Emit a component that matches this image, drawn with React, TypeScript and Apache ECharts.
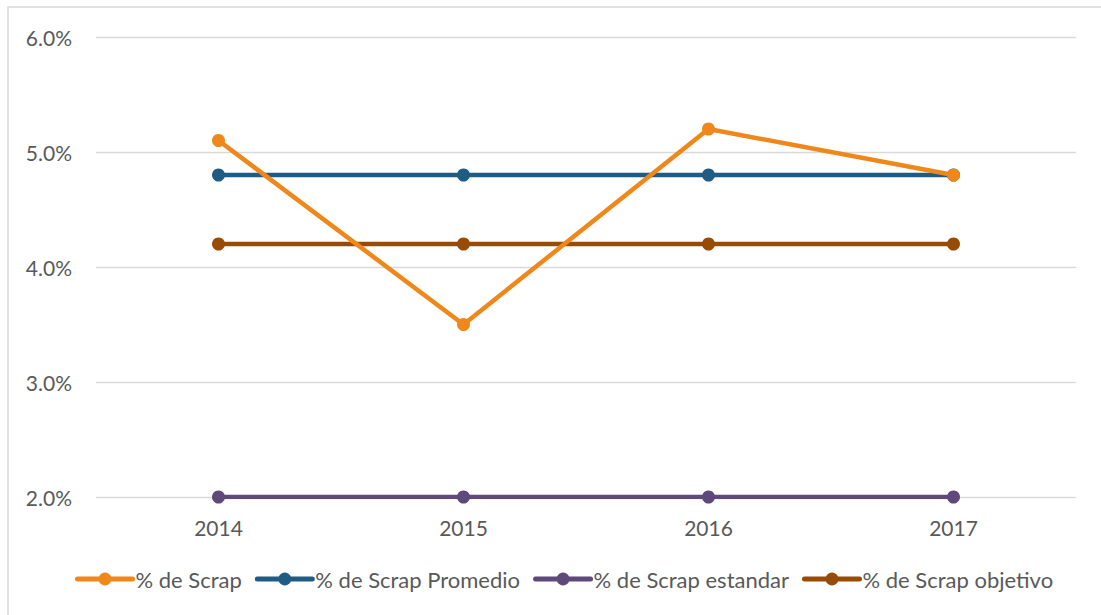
import React, { useEffect, useRef } from "react";
import * as echarts from "echarts";

const years = ["2014", "2015", "2016", "2017"];
const scrap = [5.1, 3.5, 5.2, 4.8];
const scrapPromedio = [4.8, 4.8, 4.8, 4.8];
const scrapEstandar = [2.0, 2.0, 2.0, 2.0];
const scrapObjetivo = [4.2, 4.2, 4.2, 4.2];

const seriesNames = [
  "% de Scrap",
  "% de Scrap Promedio",
  "% de Scrap estandar",
  "% de Scrap objetivo",
];
const seriesColors = ["#F0871A", "#1F5C84", "#5F497A", "#974B05"];
const seriesData = [scrap, scrapPromedio, scrapEstandar, scrapObjetivo];

const FONT = "Lato, 'Open Sans', sans-serif";
const TEXT = "#595959";

export default function App() {
  const ref = useRef<HTMLDivElement>(null);

  useEffect(() => {
    if (!ref.current) return;
    const chart = echarts.init(ref.current, undefined, { renderer: "svg" });
    chart.setOption({
      animation: false,
      backgroundColor: "#ffffff",
      graphic: [
        {
          type: "rect",
          shape: { x: 8, y: 7, width: 1200, height: 700 },
          style: { fill: "none", stroke: "#d9d9d9", lineWidth: 1.5 },
          silent: true,
          z: -1,
        },
      ],
      grid: { left: 96, right: 25, top: 37, bottom: 118, containLabel: false },
      legend: {
        bottom: 20,
        left: 70,
        itemWidth: 55,
        itemHeight: 16,
        itemGap: 13,
        lineStyle: { width: 5, cap: "round" },
        textStyle: { color: TEXT, fontSize: 22, fontFamily: FONT, padding: [0, 0, 0, -2] },
        data: seriesNames,
      },
      xAxis: {
        type: "category",
        data: years,
        boundaryGap: true,
        axisLine: { show: false },
        axisTick: { show: false },
        axisLabel: { color: TEXT, fontSize: 21, fontFamily: FONT, margin: 20 },
      },
      yAxis: {
        type: "value",
        min: 2,
        max: 6,
        interval: 1,
        axisLine: { show: false },
        axisTick: { show: false },
        splitLine: { lineStyle: { color: "#d9d9d9", width: 1.3 } },
        axisLabel: {
          color: TEXT,
          fontSize: 21,
          fontFamily: FONT,
          margin: 24,
          formatter: (v: number) => v.toFixed(1) + "%",
        },
      },
      series: seriesNames.map((name, i) => ({
        name,
        type: "line",
        data: seriesData[i],
        color: seriesColors[i],
        symbol: "circle",
        symbolSize: 13,
        lineStyle: { width: 4.5, color: seriesColors[i], cap: "round" },
        itemStyle: { color: seriesColors[i] },
        z: 2 + (i === 0 ? 4 : i),
      })),
    });
    return () => chart.dispose();
  }, []);

  return (
    <div
      ref={ref}
      style={{ position: "fixed", left: 0, top: 0, width: 1101, height: 615 }}
    />
  );
}
